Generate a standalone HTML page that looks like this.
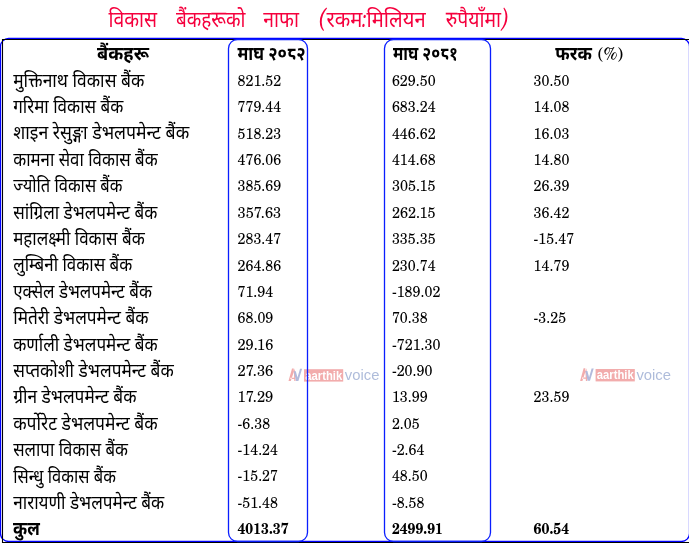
<!DOCTYPE html>
<html lang="ne"><head><meta charset="utf-8"><title>विकास बैंकहरूको नाफा</title>
<style>
html,body{margin:0;padding:0;background:#fff}
#wrap{position:relative;width:689px;height:543px;overflow:hidden;will-change:transform}
svg{position:absolute;left:0;top:0;display:block}
.d{font-family:"Noto Sans Devanagari","Lohit Devanagari","Mukta","Hind","FreeSans",sans-serif;font-size:19.5px;fill:#000}
.n{font-family:"TeX Gyre Schola","Liberation Serif",serif;font-size:15.8px;fill:#000}
.h{font-family:"Noto Sans Devanagari","Lohit Devanagari","Mukta","Hind","FreeSans",sans-serif;font-size:19.5px;font-weight:700;fill:#000}
.t{font-family:"Noto Sans Devanagari","Lohit Devanagari","Mukta","Hind","FreeSans",sans-serif;font-size:22.8px;fill:#f5003d}
.l{font-family:"Caladea","Liberation Serif",serif;font-style:italic;font-size:26px}
.b{font-weight:700}
.wm{font-family:"Liberation Sans",sans-serif}
</style></head><body>
<div id="wrap">
<svg width="689" height="543" viewBox="0 0 689 543">
<g transform="translate(289,368.9)" opacity="0.42"><path d="M-0.5 12.2 L1.8 12.2 L5.9 -0.4 L3 -0.4 Z M1.4 8.9 H5.4 V10.1 H1.4 Z M4.7 -0.4 L5.9 -0.4 L6.6 12.2 L5.3 12.2 Z" fill="#e0393b"/><path d="M4.8 2.4 L6.8 2.4 L8.5 8.6 L11 -0.1 L13.1 -0.1 L9.4 12.1 L7 12.1 Z" fill="#4a5cab"/><rect x="15" y="0.3" width="39.2" height="12.4" fill="#e0393b"/><text class="wm" x="16.2" y="10.6" font-size="12.5" font-weight="700" fill="#fff" textLength="37" lengthAdjust="spacingAndGlyphs">aarthik</text><text class="wm" x="55.8" y="10.9" font-size="15.5" fill="#3f5fa8" textLength="34.6" lengthAdjust="spacingAndGlyphs">voice</text></g>
<g transform="translate(580.6,368.7)" opacity="0.42"><path d="M-0.5 12.2 L1.8 12.2 L5.9 -0.4 L3 -0.4 Z M1.4 8.9 H5.4 V10.1 H1.4 Z M4.7 -0.4 L5.9 -0.4 L6.6 12.2 L5.3 12.2 Z" fill="#e0393b"/><path d="M4.8 2.4 L6.8 2.4 L8.5 8.6 L11 -0.1 L13.1 -0.1 L9.4 12.1 L7 12.1 Z" fill="#4a5cab"/><rect x="15" y="0.3" width="39.2" height="12.4" fill="#e0393b"/><text class="wm" x="16.2" y="10.6" font-size="12.5" font-weight="700" fill="#fff" textLength="37" lengthAdjust="spacingAndGlyphs">aarthik</text><text class="wm" x="55.8" y="10.9" font-size="15.5" fill="#3f5fa8" textLength="34.6" lengthAdjust="spacingAndGlyphs">voice</text></g>
<g fill="none">
<rect x="0.5" y="38.5" width="689" height="503" rx="8" ry="8" stroke="#0000ff" stroke-width="1.3"/>
<path d="M690 39.5 H2.5 V542.5 H690" stroke="#000" stroke-width="1.1"/>
<rect x="228.5" y="39.5" width="79" height="502" rx="9" ry="9" stroke="#0a1eff" stroke-width="1.3"/>
<rect x="384.5" y="39.5" width="106" height="502" rx="9" ry="9" stroke="#0a1eff" stroke-width="1.3"/>
</g>
<text class="t" x="108.5" y="27.0" textLength="48.6" lengthAdjust="spacingAndGlyphs">विकास</text>
<text class="t" x="176.0" y="27.0" textLength="69.5" lengthAdjust="spacingAndGlyphs">बैंकहरूको</text>
<text class="t" x="263.3" y="27.0" textLength="35.7" lengthAdjust="spacingAndGlyphs">नाफा</text>
<text class="t" x="317.8" y="27.0" textLength="107.8" lengthAdjust="spacingAndGlyphs"><tspan class="l">(</tspan>रकम<tspan class="l">:</tspan>मिलियन</text>
<text class="t" x="445.7" y="27.0" textLength="63.6" lengthAdjust="spacingAndGlyphs">रुपैयाँमा<tspan class="l">)</tspan></text>
<text class="h" x="97.1" y="59.6" textLength="51.8" lengthAdjust="spacingAndGlyphs">बैंकहरू</text>
<text class="h" x="237.4" y="59.6" textLength="68.2" lengthAdjust="spacingAndGlyphs">माघ २०८२</text>
<text class="h" x="392.9" y="59.6" textLength="65.1" lengthAdjust="spacingAndGlyphs">माघ २०८१</text>
<text class="h" x="555.3" y="59.6" textLength="36.5" lengthAdjust="spacingAndGlyphs">फरक</text>
<text class="n" x="597.8" y="60.2" style="font-size:17.5px" textLength="25.2" lengthAdjust="spacingAndGlyphs">(%)</text>
<text class="d" x="13.2" y="86.6" textLength="131.1" lengthAdjust="spacingAndGlyphs">मुक्तिनाथ विकास बैंक</text>
<text class="n" x="237.5" y="86.0" textLength="43.7" lengthAdjust="spacingAndGlyphs">821.52</text>
<text class="n" x="391.9" y="86.0" textLength="43.7" lengthAdjust="spacingAndGlyphs">629.50</text>
<text class="n" x="533.6" y="86.0" textLength="35.8" lengthAdjust="spacingAndGlyphs">30.50</text>
<text class="d" x="13.2" y="113.0" textLength="110.2" lengthAdjust="spacingAndGlyphs">गरिमा विकास बैंक</text>
<text class="n" x="237.5" y="112.0" textLength="43.7" lengthAdjust="spacingAndGlyphs">779.44</text>
<text class="n" x="391.9" y="112.0" textLength="43.7" lengthAdjust="spacingAndGlyphs">683.24</text>
<text class="n" x="533.6" y="112.0" textLength="35.8" lengthAdjust="spacingAndGlyphs">14.08</text>
<text class="d" x="13.2" y="139.4" textLength="176.0" lengthAdjust="spacingAndGlyphs">शाइन रेसुङ्गा डेभलपमेन्ट बैंक</text>
<text class="n" x="237.5" y="139.0" textLength="43.7" lengthAdjust="spacingAndGlyphs">518.23</text>
<text class="n" x="391.9" y="139.0" textLength="43.7" lengthAdjust="spacingAndGlyphs">446.62</text>
<text class="n" x="533.6" y="139.0" textLength="35.8" lengthAdjust="spacingAndGlyphs">16.03</text>
<text class="d" x="13.2" y="165.8" textLength="144.5" lengthAdjust="spacingAndGlyphs">कामना सेवा विकास बैंक</text>
<text class="n" x="237.5" y="165.0" textLength="43.7" lengthAdjust="spacingAndGlyphs">476.06</text>
<text class="n" x="391.9" y="165.0" textLength="43.7" lengthAdjust="spacingAndGlyphs">414.68</text>
<text class="n" x="533.6" y="165.0" textLength="35.8" lengthAdjust="spacingAndGlyphs">14.80</text>
<text class="d" x="13.2" y="192.2" textLength="109.3" lengthAdjust="spacingAndGlyphs">ज्योति विकास बैंक</text>
<text class="n" x="237.5" y="191.0" textLength="43.7" lengthAdjust="spacingAndGlyphs">385.69</text>
<text class="n" x="391.9" y="191.0" textLength="43.7" lengthAdjust="spacingAndGlyphs">305.15</text>
<text class="n" x="533.6" y="191.0" textLength="35.8" lengthAdjust="spacingAndGlyphs">26.39</text>
<text class="d" x="13.2" y="218.5" textLength="144.2" lengthAdjust="spacingAndGlyphs">सांग्रिला डेभलपमेन्ट बैंक</text>
<text class="n" x="237.5" y="218.0" textLength="43.7" lengthAdjust="spacingAndGlyphs">357.63</text>
<text class="n" x="391.9" y="218.0" textLength="43.7" lengthAdjust="spacingAndGlyphs">262.15</text>
<text class="n" x="533.6" y="218.0" textLength="35.8" lengthAdjust="spacingAndGlyphs">36.42</text>
<text class="d" x="13.2" y="244.9" textLength="131.5" lengthAdjust="spacingAndGlyphs">महालक्ष्मी विकास बैंक</text>
<text class="n" x="237.5" y="244.0" textLength="43.7" lengthAdjust="spacingAndGlyphs">283.47</text>
<text class="n" x="391.9" y="244.0" textLength="43.7" lengthAdjust="spacingAndGlyphs">335.35</text>
<text class="n" x="533.6" y="244.0" textLength="40.5" lengthAdjust="spacingAndGlyphs">-15.47</text>
<text class="d" x="13.2" y="271.3" textLength="119.1" lengthAdjust="spacingAndGlyphs">लुम्बिनी विकास बैंक</text>
<text class="n" x="237.5" y="271.0" textLength="43.7" lengthAdjust="spacingAndGlyphs">264.86</text>
<text class="n" x="391.9" y="271.0" textLength="43.7" lengthAdjust="spacingAndGlyphs">230.74</text>
<text class="n" x="533.6" y="271.0" textLength="35.8" lengthAdjust="spacingAndGlyphs">14.79</text>
<text class="d" x="13.2" y="297.7" textLength="138.7" lengthAdjust="spacingAndGlyphs">एक्सेल डेभलपमेन्ट बैंक</text>
<text class="n" x="237.5" y="297.0" textLength="35.8" lengthAdjust="spacingAndGlyphs">71.94</text>
<text class="n" x="391.9" y="297.0" textLength="48.5" lengthAdjust="spacingAndGlyphs">-189.02</text>
<text class="d" x="13.2" y="324.1" textLength="135.4" lengthAdjust="spacingAndGlyphs">मितेरी डेभलपमेन्ट बैंक</text>
<text class="n" x="237.5" y="323.0" textLength="35.8" lengthAdjust="spacingAndGlyphs">68.09</text>
<text class="n" x="391.9" y="323.0" textLength="35.8" lengthAdjust="spacingAndGlyphs">70.38</text>
<text class="n" x="533.6" y="323.0" textLength="32.6" lengthAdjust="spacingAndGlyphs">-3.25</text>
<text class="d" x="13.2" y="350.5" textLength="144.5" lengthAdjust="spacingAndGlyphs">कर्णाली डेभलपमेन्ट बैंक</text>
<text class="n" x="237.5" y="350.0" textLength="35.8" lengthAdjust="spacingAndGlyphs">29.16</text>
<text class="n" x="391.9" y="350.0" textLength="48.5" lengthAdjust="spacingAndGlyphs">-721.30</text>
<text class="d" x="13.2" y="376.9" textLength="160.5" lengthAdjust="spacingAndGlyphs">सप्तकोशी डेभलपमेन्ट बैंक</text>
<text class="n" x="237.5" y="376.0" textLength="35.8" lengthAdjust="spacingAndGlyphs">27.36</text>
<text class="n" x="391.9" y="376.0" textLength="40.5" lengthAdjust="spacingAndGlyphs">-20.90</text>
<text class="d" x="13.2" y="403.3" textLength="123.3" lengthAdjust="spacingAndGlyphs">ग्रीन डेभलपमेन्ट बैंक</text>
<text class="n" x="237.5" y="402.0" textLength="35.8" lengthAdjust="spacingAndGlyphs">17.29</text>
<text class="n" x="391.9" y="402.0" textLength="35.8" lengthAdjust="spacingAndGlyphs">13.99</text>
<text class="n" x="533.6" y="402.0" textLength="35.8" lengthAdjust="spacingAndGlyphs">23.59</text>
<text class="d" x="13.2" y="429.7" textLength="144.5" lengthAdjust="spacingAndGlyphs">कर्पोरेट डेभलपमेन्ट बैंक</text>
<text class="n" x="237.5" y="429.0" textLength="32.6" lengthAdjust="spacingAndGlyphs">-6.38</text>
<text class="n" x="391.9" y="429.0" textLength="27.8" lengthAdjust="spacingAndGlyphs">2.05</text>
<text class="d" x="13.2" y="456.1" textLength="114.8" lengthAdjust="spacingAndGlyphs">सलापा विकास बैंक</text>
<text class="n" x="237.5" y="455.0" textLength="40.5" lengthAdjust="spacingAndGlyphs">-14.24</text>
<text class="n" x="391.9" y="455.0" textLength="32.6" lengthAdjust="spacingAndGlyphs">-2.64</text>
<text class="d" x="13.2" y="482.5" textLength="102.7" lengthAdjust="spacingAndGlyphs">सिन्धु विकास बैंक</text>
<text class="n" x="237.5" y="481.0" textLength="40.5" lengthAdjust="spacingAndGlyphs">-15.27</text>
<text class="n" x="391.9" y="481.0" textLength="35.8" lengthAdjust="spacingAndGlyphs">48.50</text>
<text class="d" x="13.2" y="508.8" textLength="151.1" lengthAdjust="spacingAndGlyphs">नारायणी डेभलपमेन्ट बैंक</text>
<text class="n" x="237.5" y="508.0" textLength="40.5" lengthAdjust="spacingAndGlyphs">-51.48</text>
<text class="n" x="391.9" y="508.0" textLength="32.6" lengthAdjust="spacingAndGlyphs">-8.58</text>
<text class="h" x="13.1" y="535.2" textLength="26.8" lengthAdjust="spacingAndGlyphs">कुल</text>
<text class="n b" x="237.5" y="534.0" textLength="51.0" lengthAdjust="spacingAndGlyphs">4013.37</text>
<text class="n b" x="391.9" y="534.0" textLength="51.0" lengthAdjust="spacingAndGlyphs">2499.91</text>
<text class="n b" x="533.6" y="534.0" textLength="35.6" lengthAdjust="spacingAndGlyphs">60.54</text>
</svg></div></body></html>
